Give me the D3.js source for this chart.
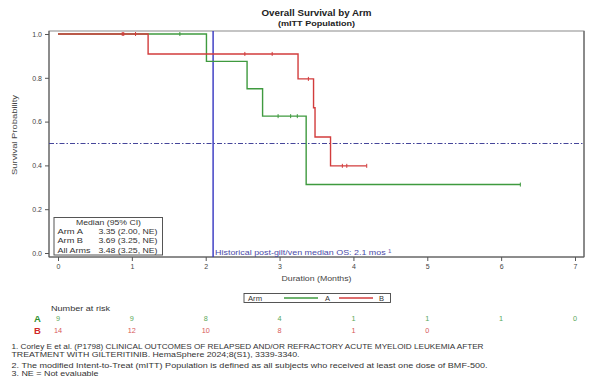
<!DOCTYPE html>
<html><head><meta charset="utf-8">
<script src="https://cdn.jsdelivr.net/npm/d3@7/dist/d3.min.js"></script>
<style>body{margin:0;background:#fff;} svg{display:block;font-family:"Liberation Sans",Arial,sans-serif;}</style>
</head><body>
<svg id="c" width="595" height="385"></svg>
<script>
// ---- data ----
const timeA = [0, 2.01, 2.56, 2.77, 3.36, 6.26];
const survA = [1.0, 0.875, 0.75, 0.625, 0.3125, 0.3125];
const censorTimeA = [1.65, 2.98, 3.15, 3.24, 6.26];
const censorSurvA = [1.0, 0.625, 0.625, 0.625, 0.3125];

const timeB = [0, 1.22, 3.25, 3.46, 3.48, 3.69, 4.18];
const survB = [1.0, 0.909, 0.795, 0.663, 0.530, 0.398, 0.398];
const censorTimeB = [0.87, 0.89, 1.05, 2.53, 2.90, 3.39, 3.85, 3.91, 4.18];
const censorSurvB = [1.0, 1.0, 1.0, 0.909, 0.909, 0.795, 0.398, 0.398, 0.398];

const xTicks = [0, 1, 2, 3, 4, 5, 6, 7];
const yTicks = [0.0, 0.2, 0.4, 0.6, 0.8, 1.0];
const riskTimesA = [0, 1, 2, 3, 4, 5, 6, 7];
const riskA = [9, 9, 8, 4, 1, 1, 1, 0];
const riskTimesB = [0, 1, 2, 3, 4, 5];
const riskB = [14, 12, 10, 8, 1, 0];
const historicalMedian = 2.1;
const medianLevel = 0.5;
const medianRows = [["Arm A", "3.35 (2.00, NE)"], ["Arm B", "3.69 (3.25, NE)"], ["All Arms", "3.48 (3.25, NE)"]];
const footnotes = [
  "1. Corley E et al. (P1798) CLINICAL OUTCOMES OF RELAPSED AND/OR REFRACTORY ACUTE MYELOID LEUKEMIA AFTER",
  "TREATMENT WITH GILTERITINIB. HemaSphere 2024;8(S1), 3339-3340.",
  "2. The modified Intent-to-Treat (mITT) Population is defined as all subjects who received at least one dose of BMF-500.",
  "3. NE = Not evaluable"
];

// ---- drawing ----
const svg = d3.select("#c");
const green = "#3f9a3f", red = "#d23c3c";
const frame = {l: 49, r: 584, t: 31, b: 257};
const x = d3.scaleLinear().domain([0, 7]).range([58, 575]);
const y = d3.scaleLinear().domain([0, 1]).range([253, 34]);

function txt(g, s, px, py, size, opts = {}) {
  const t = g.append("text").attr("x", px).attr("y", py).attr("font-size", size)
    .attr("fill", opts.fill || "#333").text(s);
  if (opts.anchor) t.attr("text-anchor", opts.anchor);
  if (opts.bold) t.attr("font-weight", "bold");
  if (opts.len) t.attr("textLength", opts.len).attr("lengthAdjust", "spacingAndGlyphs");
  return t;
}

// titles
txt(svg, "Overall Survival by Arm", 316.5, 15.5, 8.6, {anchor: "middle", bold: true, fill: "#222", len: 110});
txt(svg, "(mITT Population)", 316.5, 25.8, 7.8, {anchor: "middle", bold: true, fill: "#222", len: 77});

// frame
svg.append("rect").attr("x", frame.l).attr("y", frame.t).attr("width", frame.r - frame.l).attr("height", frame.b - frame.t)
  .attr("fill", "none").attr("stroke", "#8a8a8a").attr("stroke-width", 1);
svg.append("line").attr("x1", frame.r).attr("x2", frame.r).attr("y1", frame.t).attr("y2", frame.b).attr("stroke", "#777").attr("stroke-width", 1.5);
svg.append("line").attr("x1", frame.l).attr("x2", frame.r).attr("y1", frame.b).attr("y2", frame.b).attr("stroke", "#555");
svg.append("line").attr("x1", frame.l).attr("x2", frame.l).attr("y1", frame.t).attr("y2", frame.b).attr("stroke", "#555");

// axes
const xAxis = svg.append("g").attr("transform", `translate(0,${frame.b})`)
  .call(d3.axisBottom(x).tickValues(xTicks).tickFormat(d3.format("d")).tickSize(4).tickPadding(3));
const yAxis = svg.append("g").attr("transform", `translate(${frame.l},0)`)
  .call(d3.axisLeft(y).tickValues(yTicks).tickFormat(d3.format(".1f")).tickSize(4).tickPadding(3));
[xAxis, yAxis].forEach(g => {
  g.select(".domain").remove();
  g.selectAll("line").attr("stroke", "#555");
  g.selectAll("text").attr("font-size", 7).attr("fill", "#444").attr("font-family", "Liberation Sans, Arial, sans-serif");
});
txt(svg, "Duration (Months)", 316.5, 281, 7.8, {anchor: "middle", fill: "#444", len: 70});
txt(svg, "Survival Probability", 0, 0, 7.8, {anchor: "middle", fill: "#444", len: 80})
  .attr("transform", "translate(17,135) rotate(-90)");

// reference lines
svg.append("line").attr("x1", frame.l).attr("x2", frame.r).attr("y1", y(medianLevel)).attr("y2", y(medianLevel))
  .attr("stroke", "#45459a").attr("stroke-width", 1).attr("stroke-dasharray", "5,2,1.5,2");
svg.append("line").attr("x1", x(historicalMedian)).attr("x2", x(historicalMedian)).attr("y1", frame.t).attr("y2", frame.b)
  .attr("stroke", "#3434c0").attr("stroke-width", 1.4);
txt(svg, "Historical post-gilt/ven median OS: 2.1 mos \u00b9", x(historicalMedian) + 2, 254.5, 8, {fill: "#4a4aa8", len: 176});

// KM curves
const line = d3.line().x(d => x(d[0])).y(d => y(d[1])).curve(d3.curveStepAfter);
function drawArm(times, surv, ct, cs, col) {
  svg.append("path").datum(times.map((t, i) => [t, surv[i]])).attr("d", line)
    .attr("fill", "none").attr("stroke", col).attr("stroke-width", 1.4);
  svg.append("g").selectAll("line").data(ct.map((t, i) => [t, cs[i]])).join("line")
    .attr("x1", d => x(d[0])).attr("x2", d => x(d[0]))
    .attr("y1", d => y(d[1]) - 2).attr("y2", d => y(d[1]) + 2)
    .attr("stroke", col).attr("stroke-width", 1);
}
drawArm(timeA, survA, censorTimeA, censorSurvA, green);
drawArm(timeB, survB, censorTimeB, censorSurvB, red);

// median box
const mb = svg.append("g");
mb.append("rect").attr("x", 54).attr("y", 217.5).attr("width", 108.5).attr("height", 37.5).attr("fill", "#fff").attr("stroke", "#555").attr("stroke-width", 1);
txt(mb, "Median (95% CI)", 108.5, 225.2, 7.8, {anchor: "middle", len: 65});
const labLen = [25.5, 25.5, 33];
medianRows.forEach((r, i) => {
  txt(mb, r[0], 57.5, 234 + i * 9.3, 7.8, {len: labLen[i]});
  txt(mb, r[1], 98.5, 234 + i * 9.3, 7.8, {len: 59});
});

// legend
const lg = svg.append("g");
lg.append("rect").attr("x", 244).attr("y", 293.5).attr("width", 146.5).attr("height", 9).attr("fill", "#fff").attr("stroke", "#444").attr("stroke-width", 0.9);
txt(lg, "Arm", 248, 300.8, 7.5, {len: 14});
lg.append("line").attr("x1", 284).attr("x2", 318).attr("y1", 298).attr("y2", 298).attr("stroke", green).attr("stroke-width", 1.4);
txt(lg, "A", 325, 300.8, 7.5);
lg.append("line").attr("x1", 339).attr("x2", 373).attr("y1", 298).attr("y2", 298).attr("stroke", red).attr("stroke-width", 1.4);
txt(lg, "B", 379, 300.8, 7.5);

// number at risk
txt(svg, "Number at risk", 51, 310.5, 7.8, {len: 59});
txt(svg, "A", 37.5, 322, 9.5, {anchor: "middle", bold: true, fill: "#2f8f2f"});
txt(svg, "B", 37.5, 333.6, 9.5, {anchor: "middle", bold: true, fill: "#d02828"});
svg.append("g").selectAll("text").data(riskA).join("text")
  .attr("x", (d, i) => x(riskTimesA[i])).attr("y", 321).attr("text-anchor", "middle")
  .attr("font-size", 7.3).attr("fill", "#5aa85a").text(d => d);
svg.append("g").selectAll("text").data(riskB).join("text")
  .attr("x", (d, i) => x(riskTimesB[i])).attr("y", 332.6).attr("text-anchor", "middle")
  .attr("font-size", 7.3).attr("fill", "#d85a5a").text(d => d);

// footnotes
const fy = [348.8, 357, 367.8, 376.2];
const fLen = [472, 288, 476, 87];
footnotes.forEach((f, i) => {
  txt(svg, f, 11.5, fy[i], 7.8, {len: fLen[i]});
});
</script>
</body></html>
